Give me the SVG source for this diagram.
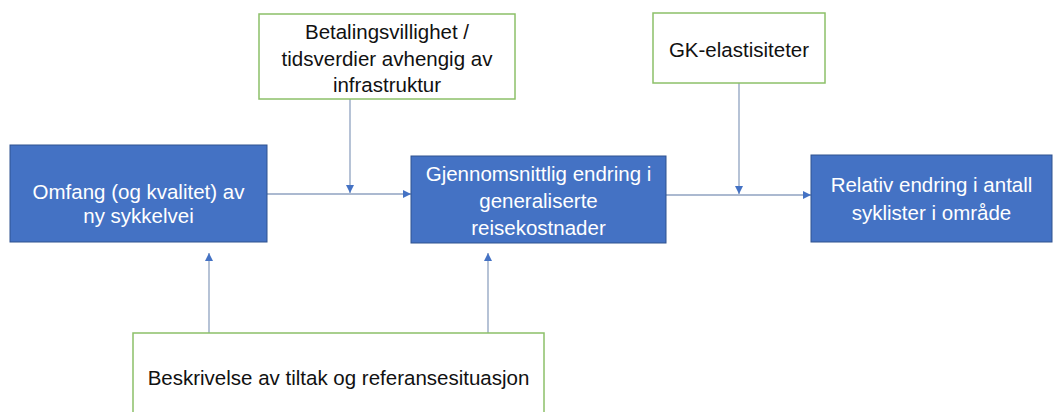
<svg xmlns="http://www.w3.org/2000/svg" width="1053" height="412" viewBox="0 0 1053 412">
<style>
.blue{fill:#4472C4;stroke:#2F528F;stroke-width:1}
.green{fill:#ffffff;stroke:#8CC068;stroke-width:1.5}
.tw{font-family:"Liberation Sans",Arial,sans-serif;font-size:20.5px;fill:#ffffff;text-anchor:middle}
.tb{font-family:"Liberation Sans",Arial,sans-serif;font-size:20.5px;fill:#111111;text-anchor:middle}
.conn{stroke:#8FA2C0;stroke-width:1.3;fill:none;marker-end:url(#ah)}
</style>
<defs>
<marker id="ah" viewBox="0 0 10 10" refX="10" refY="5" markerWidth="8" markerHeight="8" markerUnits="userSpaceOnUse" orient="auto">
<path d="M0,0 L10,5 L0,10 z" fill="#4472C4"/>
</marker>
</defs>
<rect width="1053" height="412" fill="#ffffff"/>
<g id="connectors">
<line class="conn" x1="267" y1="194" x2="411" y2="194"/>
<line class="conn" x1="350" y1="99" x2="350" y2="193"/>
<line class="conn" x1="666" y1="195" x2="811" y2="195"/>
<line class="conn" x1="739" y1="83" x2="739" y2="194"/>
<line class="conn" x1="209" y1="333" x2="209" y2="253"/>
<line class="conn" x1="488" y1="333" x2="488" y2="253"/>
</g>
<g id="omfang">
<rect class="blue" x="10" y="145" width="257" height="97"/>
<text class="tw" x="138.5" y="199">Omfang (og kvalitet) av</text>
<text class="tw" x="138.5" y="223">ny sykkelvei</text>
</g>
<g id="betaling">
<rect class="green" x="259" y="14" width="256" height="85"/>
<text class="tb" x="387" y="39">Betalingsvillighet /</text>
<text class="tb" x="387" y="66">tidsverdier avhengig av</text>
<text class="tb" x="387" y="92">infrastruktur</text>
</g>
<g id="gjennomsnitt">
<rect class="blue" x="411" y="156" width="255" height="87"/>
<text class="tw" x="538.5" y="181">Gjennomsnittlig endring i</text>
<text class="tw" x="538.5" y="208">generaliserte</text>
<text class="tw" x="538.5" y="235">reisekostnader</text>
</g>
<g id="gk">
<rect class="green" x="653" y="13" width="172" height="70"/>
<text class="tb" x="739" y="57">GK-elastisiteter</text>
</g>
<g id="relativ">
<rect class="blue" x="811" y="155" width="241" height="87"/>
<text class="tw" x="931.5" y="192">Relativ endring i antall</text>
<text class="tw" x="931.5" y="220">syklister i område</text>
</g>
<g id="beskrivelse">
<rect class="green" x="133" y="333" width="411" height="90"/>
<text class="tb" x="338.5" y="385">Beskrivelse av tiltak og referansesituasjon</text>
</g>
</svg>
